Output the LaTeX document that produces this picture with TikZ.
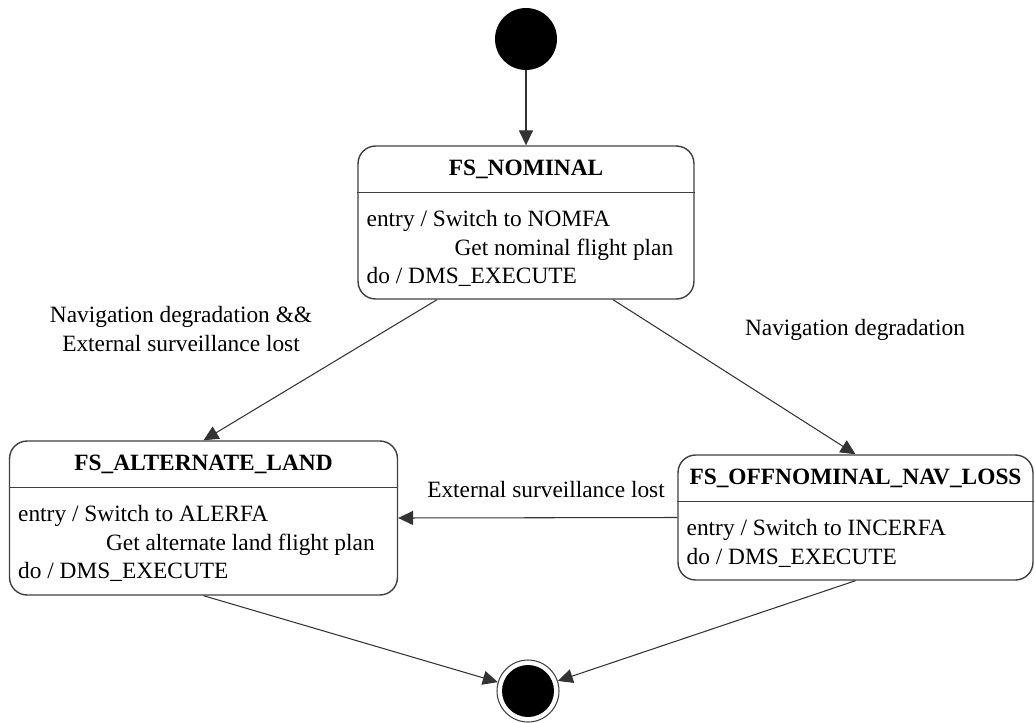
\documentclass[tikz,border=0pt]{standalone}
\usepackage{fontspec}
\setmainfont{Liberation Serif}
\usetikzlibrary{arrows.meta, calc, positioning}
\newcommand{\diagfont}{\fontsize{13.3}{16.2}\selectfont}
\tikzset{
	state/.style={draw=black!75, line width=0.8pt, rounded corners=10pt, inner sep=0pt},
	statename/.style={font=\diagfont\bfseries, inner sep=0pt},
	statebody/.style={font=\diagfont, align=left, anchor=north west, inner sep=0pt},
	trans/.style={draw=black!80, line width=0.6pt, -{Triangle[length=8.5pt,width=8pt]}},
	guard/.style={font=\diagfont, align=center, inner sep=0pt},
}
\newcommand{\actindent}{\hspace*{50pt}}

\begin{document}
\begin{tikzpicture}[x=0.02cm, y=-0.02cm]
			\useasboundingbox (0,0) rectangle (1035,723);
			% Pseudo states
			\node[circle, fill=black, minimum size=1.24cm, inner sep=0pt] (init) at (526,39) {};
			\node[circle, draw=black!75, line width=0.6pt, minimum size=1.24cm, inner sep=0pt] (fin) at (528,691) {};
			\fill (fin.center) circle (26);
			
			% States
			\node[state, minimum width=6.72cm, minimum height=3.06cm] (nom) at (526,222.5) {};
			\node[state, minimum width=7.76cm, minimum height=3.08cm] (alt) at (203.5,518) {};
			\node[state, minimum width=7.1cm, minimum height=2.5cm] (off) at (855.5,517.5) {};
			\foreach \s in {nom, alt, off}
				\draw[black!75, line width=0.8pt] ($(\s.north west)+(0,47)$) -- ($(\s.north east)+(0,47)$);
			
			% Names and activities
			\node[statename] (nomname) at ($(nom.north)+(0,24)$) {FS\_NOMINAL};
			\node[statebody] (nombody) at ($(nom.north west)+(9,65)$) {entry / Switch to NOMFA\\ \actindent Get nominal flight plan\\ do / DMS\_EXECUTE};
			\node[statename] (altname) at ($(alt.north)+(0,24)$) {FS\_ALTERNATE\_LAND};
			\node[statebody] (altbody) at ($(alt.north west)+(9,65)$) {entry / Switch to ALERFA\\ \actindent Get alternate land flight plan\\ do / DMS\_EXECUTE};
			\node[statename] (offname) at ($(off.north)+(0,24)$) {FS\_OFFNOMINAL\_NAV\_LOSS};
			\node[statebody] (offbody) at ($(off.north west)+(9,65)$) {entry / Switch to INCERFA\\ do / DMS\_EXECUTE};
			
			% Transitions
			\draw[trans] (init) -- (nom.north);
			\draw[trans] ($(nom.south)+(-89,0)$) -- (alt.north);
			\draw[trans] ($(nom.south)+(87,0)$) -- (off.north);
			\draw[trans] (off.west) -- (alt.east);
			\draw[trans] (alt.south) -- (fin);
			\draw[trans] (off.south) -- (fin);
			
			% Guards
			\node[guard] (g1) at (181,329) {Navigation degradation \&\&\\ External surveillance lost};
			\node[guard] (g2) at (855,330) {Navigation degradation};
			\node[guard] (g3) at (546,490) {External surveillance lost};
		\end{tikzpicture}
\end{document}
